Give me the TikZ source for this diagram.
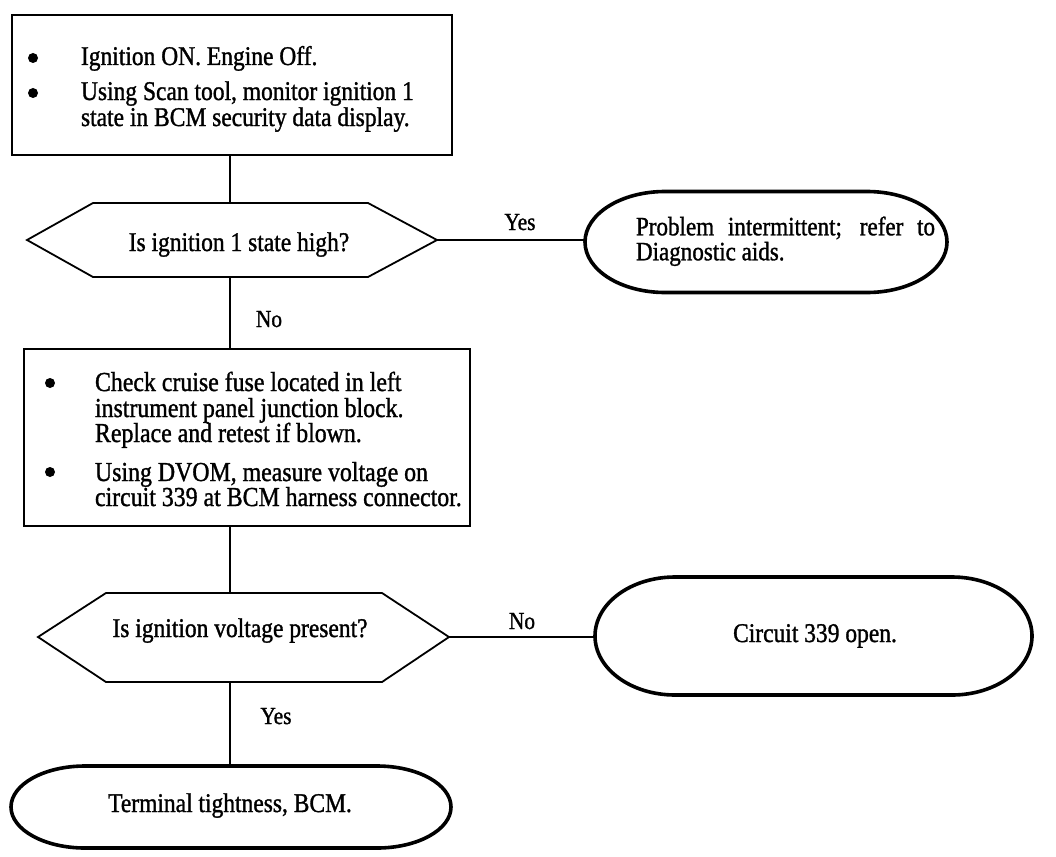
\documentclass[tikz,border=0pt]{standalone}
\usepackage{fontspec}
\setmainfont{Liberation Serif}[FakeStretch=0.87, FakeBold=1.2]
\newcommand{\drawoval}[3]{%
  \draw[endline] ([xshift=#2]#1.north west) -- ([xshift=-#2]#1.north east)
    arc[start angle=90, end angle=-90, x radius=#2, y radius=#3]
    -- ([xshift=#2]#1.south west)
    arc[start angle=270, end angle=90, x radius=#2, y radius=#3] -- cycle;}
\begin{document}
\begin{tikzpicture}[x=1pt,y=-1pt,
  every node/.style={inner sep=0pt, outer sep=0pt},
  txt/.style={font=\fontsize{27}{29}\selectfont, anchor=base west},
  txtb/.style={font=\fontsize{27.4}{29}\selectfont, anchor=base west},
  ctxt/.style={font=\fontsize{27}{29}\selectfont, anchor=base},
  lbl/.style={font=\fontsize{24.5}{26}\selectfont, anchor=base},
  bul/.style={circle, fill=black, minimum size=10pt},
  stepbox/.style={draw, line width=2.8pt},
  hexline/.style={draw, line width=1.8pt, line join=miter},
  endnode/.style={rectangle},
  endline/.style={draw, line width=3.6pt, line join=round},
  conn/.style={draw, line width=2pt}]
\useasboundingbox (0,0) rectangle (1056,856);

% ---- step 1 box
\node[stepbox, minimum width=440pt, minimum height=140pt] (s1) at (232,85) {};
\node[bul] (s1b1) at (33,58) {};
\node[bul] (s1b2) at (33,93) {};
\node[txt] (s1t1) at (81,65) {Ignition ON. Engine Off.};
\node[txt] (s1t2) at (81,100) {Using Scan tool, monitor ignition 1};
\node[txt] (s1t3) at (81,126) {state in BCM security data display.};

% ---- question 1
\draw[hexline] (27,240) -- (93,203) -- (368,203) -- (437,240) -- (368,277) -- (93,277) -- cycle;
\coordinate (q1n) at (230,203);
\coordinate (q1s) at (230,277);
\coordinate (q1e) at (437,240);
\node[ctxt] (q1) at (239,251) {Is ignition 1 state high?};

% ---- end 1
\node[endnode, minimum width=362pt, minimum height=101pt] (o1) at (766,242) {};
\drawoval{o1}{80pt}{50.5pt}
\node[font=\fontsize{26.5}{25}\selectfont, align=left] (o1t) at (785.5,241.3)
  {\makebox[299pt][s]{Problem intermittent; refer to}\\Diagnostic aids.};

% ---- step 2 box
\node[stepbox, minimum width=446pt, minimum height=177pt] (s2) at (247,437.5) {};
\node[bul] (s2b1) at (50,383) {};
\node[bul] (s2b2) at (50,472) {};
\node[txtb] (s2t1) at (95,391) {Check cruise fuse located in left};
\node[txtb] (s2t2) at (95,417) {instrument panel junction block.};
\node[txtb] (s2t3) at (95,442) {Replace and retest if blown.};
\node[txtb] (s2t4) at (95,481) {Using DVOM, measure voltage on};
\node[txtb] (s2t5) at (95,506) {circuit 339 at BCM harness connector.};

% ---- question 2
\draw[hexline] (38,637) -- (106,593) -- (382,593) -- (449,637) -- (382,682) -- (106,682) -- cycle;
\coordinate (q2n) at (230,593);
\coordinate (q2s) at (230,682);
\coordinate (q2e) at (449,637);
\node[ctxt] (q2) at (240,637) {Is ignition voltage present?};

% ---- end 2
\node[endnode, minimum width=437pt, minimum height=118pt] (o2) at (813.5,636) {};
\drawoval{o2}{80pt}{59pt}
\node[ctxt] (o2t) at (815,642) {Circuit 339 open.};

% ---- end 3
\node[endnode, minimum width=440pt, minimum height=82pt] (o3) at (231,807) {};
\drawoval{o3}{74pt}{41pt}
\node[ctxt] (o3t) at (230,812) {Terminal tightness, BCM.};

% ---- connectors
\draw[conn] (s1.south -| q1n) -- (q1n);
\draw[conn] (q1e) -- (q1e -| o1.west);
\draw[conn] (q1s) -- (s2.north -| q1s);
\draw[conn] (s2.south -| q2n) -- (q2n);
\draw[conn] (q2e) -- (q2e -| o2.west);
\draw[conn] (q2s) -- (o3.north -| q2s);

% ---- labels
\node[lbl] (lyes1) at (520,230) {Yes};
\node[lbl] (lno1) at (269,327) {No};
\node[lbl] (lno2) at (522,629) {No};
\node[lbl] (lyes2) at (276,724) {Yes};
\end{tikzpicture}
\end{document}
